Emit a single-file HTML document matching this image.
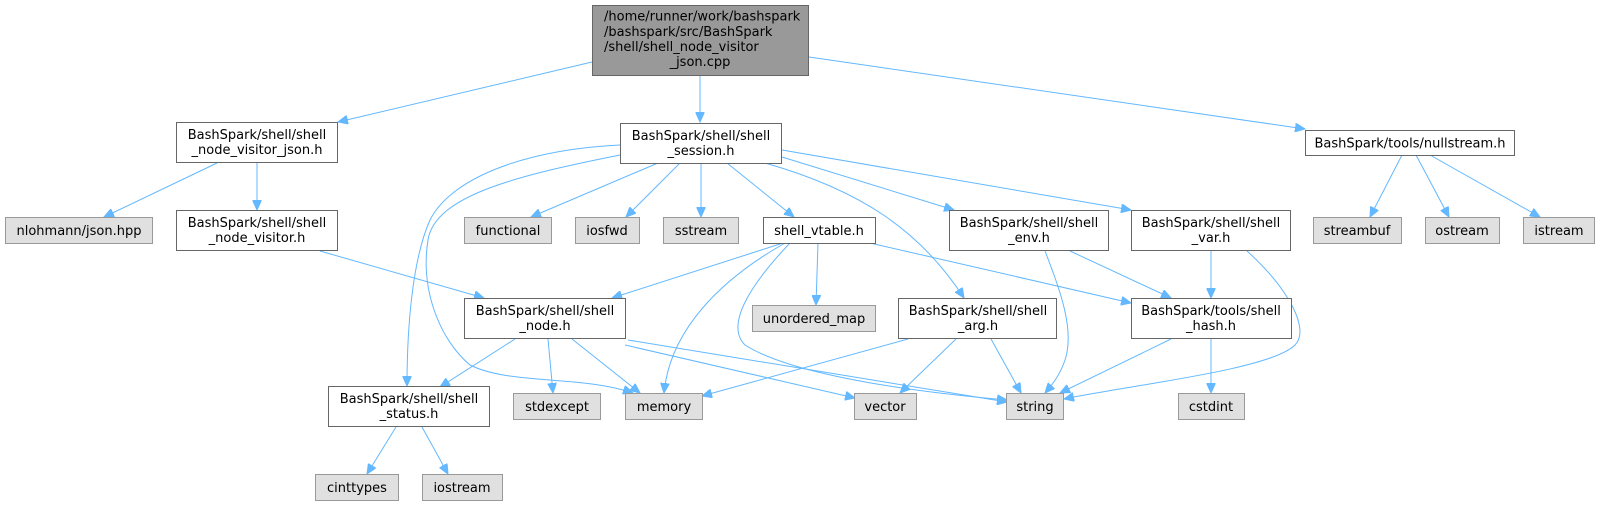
<!DOCTYPE html>
<html><head><meta charset="utf-8"><style>
html,body{margin:0;padding:0;background:#fff;width:1615px;height:505px;overflow:hidden}
svg text{font-family:"DejaVu Sans","Liberation Sans",sans-serif;font-size:13px;fill:#000;text-anchor:middle}
.w{fill:#fff;stroke:#666;stroke-width:1}
.g{fill:#e0e0e0;stroke:#999;stroke-width:1}
.e{fill:none;stroke:#63b8ff;stroke-width:1;marker-end:url(#a)}
</style></head><body>
<svg width="1615" height="505" viewBox="0 0 1615 505" xmlns="http://www.w3.org/2000/svg">
<defs><marker id="a" markerUnits="userSpaceOnUse" markerWidth="11" markerHeight="9" refX="10" refY="4.5" orient="auto"><path d="M0,0 L10,4.5 L0,9 z" fill="#63b8ff" stroke="#63b8ff"/></marker></defs>
<path class="e" d="M592,62 L338,122"/>
<path class="e" d="M700,75 L700,122"/>
<path class="e" d="M809,57 L1305,129"/>
<path class="e" d="M658,163 L531,217"/>
<path class="e" d="M680,163 L626,217"/>
<path class="e" d="M701,163 L701,217"/>
<path class="e" d="M727,163 L794,217"/>
<path class="e" d="M782,157 L954,210"/>
<path class="e" d="M782,150 L1131,210"/>
<path class="e" d="M765,163 C860,190 920,230 964,298"/>
<path class="e" d="M620,145 C520,150 450,180 430,220 C412,260 407,330 407,386"/>
<path class="e" d="M620,155 C520,175 435,195 428,240 C420,290 440,340 470,365 C510,385 580,375 633,393"/>
<path class="e" d="M217,163 L104,217"/>
<path class="e" d="M257,163 L257,210"/>
<path class="e" d="M320,251 L484,298"/>
<path class="e" d="M783,243 L612,298"/>
<path class="e" d="M785,243 C720,280 670,330 664,393"/>
<path class="e" d="M818,243 L816,305"/>
<path class="e" d="M790,243 C750,285 725,325 745,345 C800,380 950,395 1007,400"/>
<path class="e" d="M870,243 L1131,303"/>
<path class="e" d="M515,339 L440,387"/>
<path class="e" d="M548,339 L553,393"/>
<path class="e" d="M572,339 L640,393"/>
<path class="e" d="M625,345 L855,398"/>
<path class="e" d="M628,340 L1007,402"/>
<path class="e" d="M1045,251 C1060,290 1075,330 1065,360 C1060,375 1052,385 1045,393"/>
<path class="e" d="M1070,251 L1171,298"/>
<path class="e" d="M1211,251 L1211,298"/>
<path class="e" d="M1247,251 C1290,290 1310,330 1295,345 C1270,370 1130,385 1064,399"/>
<path class="e" d="M908,339 L702,396"/>
<path class="e" d="M956,339 L900,393"/>
<path class="e" d="M991,339 L1021,393"/>
<path class="e" d="M1171,339 L1060,393"/>
<path class="e" d="M1211,339 L1211,393"/>
<path class="e" d="M396,427 L367,474"/>
<path class="e" d="M422,427 L448,474"/>
<path class="e" d="M1402,155 L1370,217"/>
<path class="e" d="M1416,155 L1449,217"/>
<path class="e" d="M1430,155 L1540,217"/>

<rect x="592.5" y="5.5" width="216" height="70" fill="#999" stroke="#666"/>
<text x="604" y="20.5" style="text-anchor:start">/home/runner/work/bashspark</text>
<text x="604" y="36" style="text-anchor:start">/bashspark/src/BashSpark</text>
<text x="604" y="51" style="text-anchor:start">/shell/shell_node_visitor</text>
<text x="700" y="66">_json.cpp</text>

<rect class="w" x="620.5" y="123.5" width="161" height="40"/><text x="701" y="140">BashSpark/shell/shell</text><text x="701" y="155">_session.h</text>
<rect class="w" x="176.5" y="122.5" width="161" height="40"/><text x="257" y="139">BashSpark/shell/shell</text><text x="257" y="154">_node_visitor_json.h</text>
<rect class="w" x="1305.5" y="130.5" width="209" height="25"/><text x="1410" y="147.5">BashSpark/tools/nullstream.h</text>
<rect class="g" x="5.5" y="217.5" width="147" height="26"/><text x="79" y="235">nlohmann/json.hpp</text>
<rect class="w" x="176.5" y="210.5" width="161" height="40"/><text x="257" y="227">BashSpark/shell/shell</text><text x="257" y="242">_node_visitor.h</text>
<rect class="g" x="464.5" y="217.5" width="87" height="26"/><text x="508" y="235">functional</text>
<rect class="g" x="575.5" y="217.5" width="64" height="26"/><text x="607" y="235">iosfwd</text>
<rect class="g" x="663.5" y="217.5" width="75" height="26"/><text x="701" y="235">sstream</text>
<rect class="w" x="763.5" y="217.5" width="112" height="26"/><text x="819" y="235">shell_vtable.h</text>
<rect class="w" x="949.5" y="210.5" width="159" height="40"/><text x="1029" y="227">BashSpark/shell/shell</text><text x="1029" y="242">_env.h</text>
<rect class="w" x="1131.5" y="210.5" width="159" height="40"/><text x="1211" y="227">BashSpark/shell/shell</text><text x="1211" y="242">_var.h</text>
<rect class="g" x="1313.5" y="217.5" width="88" height="26"/><text x="1357" y="235">streambuf</text>
<rect class="g" x="1425.5" y="217.5" width="74" height="26"/><text x="1462" y="235">ostream</text>
<rect class="g" x="1523.5" y="217.5" width="71" height="26"/><text x="1559" y="235">istream</text>
<rect class="w" x="464.5" y="298.5" width="161" height="40"/><text x="545" y="315">BashSpark/shell/shell</text><text x="545" y="330">_node.h</text>
<rect class="g" x="752.5" y="305.5" width="123" height="26"/><text x="814" y="323">unordered_map</text>
<rect class="w" x="898.5" y="298.5" width="158" height="40"/><text x="978" y="315">BashSpark/shell/shell</text><text x="978" y="330">_arg.h</text>
<rect class="w" x="1131.5" y="298.5" width="160" height="40"/><text x="1211" y="315">BashSpark/tools/shell</text><text x="1211" y="330">_hash.h</text>
<rect class="w" x="328.5" y="386.5" width="161" height="40"/><text x="409" y="403">BashSpark/shell/shell</text><text x="409" y="418">_status.h</text>
<rect class="g" x="513.5" y="393.5" width="87" height="26"/><text x="557" y="411">stdexcept</text>
<rect class="g" x="625.5" y="393.5" width="77" height="26"/><text x="664" y="411">memory</text>
<rect class="g" x="854.5" y="393.5" width="62" height="26"/><text x="885" y="411">vector</text>
<rect class="g" x="1006.5" y="393.5" width="57" height="26"/><text x="1035" y="411">string</text>
<rect class="g" x="1178.5" y="393.5" width="66" height="26"/><text x="1211" y="411">cstdint</text>
<rect class="g" x="315.5" y="474.5" width="83" height="26"/><text x="357" y="492">cinttypes</text>
<rect class="g" x="422.5" y="474.5" width="80" height="26"/><text x="462" y="492">iostream</text>
</svg>
</body></html>
